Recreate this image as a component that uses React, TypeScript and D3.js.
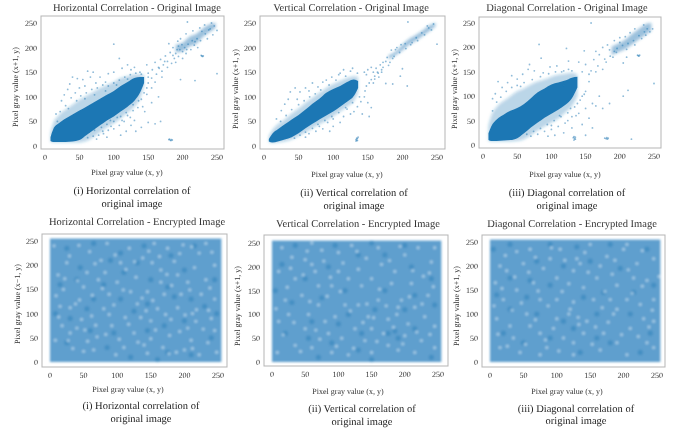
import React from 'react';
import * as d3 from 'd3';

type Pt = [number, number];

const width = 674;
const height = 432;
const blue = '#1f77b4';
const ticks = [0, 50, 100, 150, 200, 250];
const serif = '"Liberation Serif", serif';

// dense part of the original-image clouds, as x / low y / high y
const hCoreX = [8, 12, 20, 30, 40, 50, 60, 70, 80, 90, 100, 110, 120, 130, 138, 144];
const hCoreLow = [10, 8, 8, 8, 9, 12, 22, 32, 42, 52, 60, 70, 80, 92, 108, 128];
const hCoreHigh = [18, 34, 46, 56, 64, 72, 80, 88, 96, 104, 112, 122, 130, 138, 140, 140];
const hHaloLow = [8, 7, 7, 7, 7, 7, 10, 18, 28, 38, 46, 56, 68, 80, 96, 122];
const hHaloHigh = [26, 46, 62, 74, 84, 94, 102, 110, 118, 124, 130, 138, 142, 146, 146, 144];
const hUpperX = [190, 200, 210, 220, 230, 240, 248];
const hUpperLow = [190, 192, 202, 208, 222, 232, 240];
const hUpperHigh = [206, 210, 222, 228, 240, 248, 250];

const vCoreX = [7, 12, 20, 30, 40, 50, 60, 70, 80, 90, 100, 110, 120, 130, 136];
const vCoreLow = [9, 7, 9, 13, 18, 26, 36, 45, 54, 62, 70, 80, 90, 102, 118];
const vCoreHigh = [14, 25, 34, 44, 54, 63, 74, 86, 96, 108, 116, 122, 130, 135, 132];
const vHaloLow = [8, 6, 7, 9, 13, 20, 28, 36, 44, 52, 60, 70, 80, 92, 108];
const vHaloHigh = [20, 32, 44, 54, 66, 76, 88, 98, 108, 118, 126, 132, 138, 142, 140];
const vUpperX = [180, 190, 200, 210, 220, 230, 240, 248];
const vUpperLow = [176, 184, 194, 206, 214, 224, 234, 244];
const vUpperHigh = [184, 192, 206, 218, 226, 236, 246, 250];

const dCoreX = [8, 12, 20, 30, 40, 50, 60, 70, 80, 90, 100, 110, 120, 130, 138];
const dCoreLow = [10, 8, 8, 9, 10, 14, 24, 36, 46, 56, 64, 72, 82, 96, 118];
const dCoreHigh = [24, 38, 52, 62, 70, 76, 84, 96, 108, 116, 124, 128, 132, 138, 140];
const dHaloLow = [8, 7, 7, 7, 7, 8, 12, 20, 30, 38, 46, 54, 66, 80, 100];
const dHaloHigh = [40, 60, 78, 90, 100, 110, 116, 124, 130, 134, 140, 144, 146, 148, 144];
const dUpperX = [188, 198, 208, 218, 228, 238, 246];
const dUpperLow = [184, 190, 196, 206, 216, 226, 234];
const dUpperHigh = [202, 208, 216, 228, 238, 248, 250];

// loose points around the clouds: clear outliers are read off the picture, the rest
// only stand in for the scatter at about the right place
const hLoose: Pt[] = [[182,12],[184,13],[180,13],[183,11],[181,14],[185,12],[228,183],[229,182],[227,184],[230,183],[207,252],[250,147],[197,135],[218,133],[100,207],[62,152],[70,150],[40,140],[47,137],[55,135],[33,115],[24,92],[16,65],[28,104],[36,126],[66,140],[80,140],[92,147],[100,150],[112,158],[120,165],[125,155],[108,178],[88,130],[74,128],[58,122],[50,118],[130,160],[138,150],[150,148],[156,155],[148,165],[160,170],[168,176],[175,183],[165,160],[172,165],[182,190],[178,172],[188,178],[192,196],[186,200],[180,208],[200,178],[205,188],[190,170],[212,196],[222,200],[236,218],[244,226],[215,234],[205,228],[197,218],[193,213],[225,240],[232,246],[150,128],[155,118],[148,105],[140,95],[135,78],[142,80],[128,72],[120,62],[115,50],[130,52],[108,42],[100,35],[92,32],[85,25],[78,22],[118,30],[132,30],[150,48],[160,45],[168,50],[145,70],[155,88],[165,100],[160,130],[170,140],[95,52],[105,58],[70,20],[62,17],[90,18],[75,14],[110,22],[125,42],[140,38],[218,212],[238,236],[246,244],[242,250],[250,235],[18,50],[22,70],[30,82],[38,98],[44,108],[52,102],[60,108],[68,115],[76,118],[84,124],[92,122],[100,128],[108,134],[116,140],[124,145],[132,148],[140,146],[46,92],[34,76],[58,96],[72,104],[88,112],[104,124],[120,136],[64,28],[72,32],[82,38],[90,44],[100,50],[110,60],[118,68],[128,84],[136,92],[144,108],[148,118],[112,52],[124,58],[96,40],[84,30],[196,196],[203,200],[208,207],[214,214],[194,203],[199,206],[226,214],[221,218],[233,228],[228,233],[240,238],[206,196],[217,205],[190,188],[155,138],[162,146],[170,152],[178,160],[184,168],[194,182],[150,140],[166,158],[174,172],[186,184],[200,192]];
const vLoose: Pt[] = [[133,10],[134,12],[135,15],[136,18],[133,13],[135,11],[134,16],[208,252],[250,207],[207,122],[186,126],[176,127],[200,157],[197,142],[155,160],[158,150],[150,155],[148,145],[162,158],[168,165],[172,170],[178,180],[186,178],[165,148],[170,155],[155,135],[160,142],[145,150],[135,148],[125,152],[115,155],[128,158],[108,145],[98,140],[85,130],[70,128],[60,118],[45,118],[38,110],[52,110],[30,85],[25,72],[18,55],[35,95],[48,95],[65,112],[78,120],[90,134],[110,148],[145,100],[140,90],[150,88],[155,78],[135,80],[125,65],[115,60],[110,48],[100,40],[95,30],[85,35],[75,30],[65,25],[60,18],[120,75],[130,70],[142,65],[152,60],[100,55],[92,48],[80,40],[205,198],[212,206],[220,220],[228,230],[238,240],[245,248],[192,200],[184,195],[236,244],[188,182],[196,190],[176,172],[148,122],[158,128],[166,140],[182,170],[24,50],[32,62],[40,74],[50,84],[58,92],[66,100],[74,106],[82,114],[94,124],[104,134],[118,142],[44,16],[52,22],[60,28],[70,36],[78,44],[88,52],[98,60],[108,68],[118,78],[128,88],[138,100],[146,112],[152,128],[160,136],[172,160],[180,164],[170,150],[164,150],[190,196],[198,206],[204,208],[214,210],[222,214],[232,226],[242,236]];
const dLoose: Pt[] = [[133,10],[134,13],[132,15],[135,12],[133,17],[135,16],[180,13],[181,15],[183,14],[178,14],[182,12],[227,183],[228,182],[226,184],[229,184],[217,12],[250,126],[158,250],[82,206],[122,198],[148,193],[118,122],[22,130],[28,118],[36,128],[14,95],[18,105],[42,142],[50,135],[58,145],[66,155],[75,152],[88,148],[98,160],[108,162],[115,150],[125,155],[68,165],[55,120],[85,178],[125,172],[140,170],[150,165],[162,175],[170,185],[180,170],[190,180],[175,200],[165,192],[185,195],[195,190],[205,168],[210,180],[145,150],[155,145],[165,150],[175,155],[155,130],[150,110],[145,100],[160,85],[150,75],[140,65],[130,58],[120,45],[110,38],[100,32],[90,28],[80,22],[70,18],[130,35],[145,42],[155,55],[165,80],[175,75],[170,100],[185,85],[205,100],[212,112],[118,25],[105,20],[95,18],[150,20],[160,35],[200,210],[208,222],[215,230],[222,238],[235,246],[244,232],[248,238],[238,225],[192,214],[200,220],[182,205],[112,60],[128,75],[138,85],[14,70],[20,88],[26,98],[34,110],[42,118],[50,122],[60,128],[72,134],[84,140],[96,146],[106,150],[118,152],[130,152],[64,22],[74,28],[84,34],[94,42],[104,50],[114,58],[124,66],[134,78],[142,92],[148,104],[124,50],[136,60],[100,40],[196,198],[204,204],[212,208],[220,214],[228,224],[236,232],[192,192],[186,182],[178,176],[158,152],[168,162],[210,196],[222,205],[232,218],[240,238]];

// encrypted clouds: the extent is read off the picture. The spots are NOT measured: single
// pixels can't be read there, so they only suggest the speckle and are far fewer than the original's
const fullRange = [0, 255];
const ehLight: Pt[] = [[59,228],[72,170],[38,120],[44,128],[30,112],[105,205],[118,235],[155,245],[165,190],[185,208],[222,225],[190,180],[232,170],[240,90],[212,100],[218,108],[205,70],[178,55],[150,85],[130,120],[92,75],[70,52],[50,22],[34,28],[110,30],[145,18],[168,30],[200,25],[235,40],[18,75],[12,180],[25,205],[88,140],[100,165],[128,175],[145,145],[170,140],[195,140],[225,140],[245,200],[6,240],[85,245],[138,215],[62,95],[80,110],[112,92],[160,110],[190,112],[245,130],[8,45],[20,150],[55,185],[76,210],[95,118],[125,60],[150,48],[180,88],[210,45],[228,68],[248,20],[40,70],[65,25],[98,15],[135,92],[165,165],[205,165],[215,195],[175,235],[198,242],[232,245],[50,155],[15,115],[120,145],[152,205],[82,185],[30,60],[140,35],[188,20],[222,15],[245,65],[13,93],[27,44],[47,88],[56,43],[68,76],[83,57],[103,47],[117,78],[131,41],[157,66],[172,98],[193,63],[217,84],[236,107],[41,168],[63,138],[78,152],[109,149],[137,132],[153,127],[181,158],[208,149],[238,153],[29,219],[43,241],[67,203],[97,221],[113,191],[147,229],[163,218],[193,224],[211,238],[241,227],[9,137],[22,172],[126,207],[174,181],[201,97],[143,106],[88,98],[52,66],[177,17],[212,28]];
const ehDark: Pt[] = [[25,40],[60,65],[85,30],[120,10],[145,65],[175,20],[210,15],[240,50],[30,90],[65,130],[105,130],[145,120],[185,135],[230,115],[15,160],[45,195],[80,160],[110,185],[150,170],[200,190],[245,170],[25,235],[65,245],[105,225],[140,240],[180,220],[215,240],[8,100],[95,60],[170,75],[200,85],[125,105],[55,110],[40,170],[175,155],[130,205],[90,210],[210,130],[248,100],[160,5]];
const evLight: Pt[] = [[60,205],[65,190],[50,215],[20,130],[15,240],[35,175],[90,160],[100,230],[130,195],[160,240],[180,165],[195,130],[190,115],[188,100],[200,225],[228,180],[235,140],[240,210],[205,80],[168,60],[145,95],[110,120],[85,60],[60,30],[35,35],[115,15],[150,20],[190,25],[225,45],[10,85],[25,100],[70,120],[95,95],[125,70],[160,130],[135,160],[75,235],[115,175],[165,205],[210,165],[245,75],[245,30],[8,20],[50,70],[45,140],[80,85],[105,50],[140,45],[175,35],[215,115],[230,95],[70,160],[30,220],[120,245],[150,175],[185,190],[245,240],[10,190],[90,20],[200,55],[55,100],[130,120],[175,90],[215,20],[150,70],[100,190],[60,250],[220,240],[17,57],[33,83],[43,22],[72,48],[97,33],[123,29],[137,83],[158,43],[183,73],[218,63],[238,58],[23,157],[57,127],[83,138],[103,148],[118,107],[143,122],[172,118],[207,137],[226,122],[28,197],[47,183],[78,212],[107,208],[142,218],[177,213],[193,243],[212,192],[237,187],[6,112],[66,67],[153,93],[197,38],[128,232],[88,178],[162,153],[243,158],[53,233]];
const evDark: Pt[] = [[20,60],[55,50],[90,40],[130,25],[175,60],[190,50],[185,65],[215,70],[30,125],[75,135],[115,100],[155,110],[215,140],[15,205],[50,175],[85,200],[130,225],[170,225],[210,200],[240,175],[35,245],[95,245],[150,250],[200,245],[245,120],[5,150],[110,150],[170,150],[135,60],[60,85],[240,10],[150,5],[70,10],[100,80],[200,110]];
const edLight: Pt[] = [[15,200],[25,190],[130,215],[135,205],[125,190],[140,155],[120,110],[118,100],[125,125],[75,60],[190,110],[185,100],[205,130],[225,120],[175,220],[200,235],[60,235],[90,215],[40,150],[65,165],[100,175],[160,175],[190,160],[235,170],[245,215],[10,90],[30,75],[55,100],[95,70],[145,85],[170,60],[210,70],[235,40],[15,30],[45,20],[85,30],[125,40],[165,25],[205,15],[245,85],[75,130],[100,130],[155,130],[230,90],[50,205],[105,235],[150,245],[220,205],[20,130],[35,50],[110,50],[60,75],[140,60],[190,40],[245,130],[165,200],[80,195],[40,230],[8,165],[215,175],[180,130],[245,30],[75,15],[125,15],[205,245],[100,90],[12,58],[26,33],[53,37],[68,88],[83,46],[103,23],[133,78],[153,37],[177,83],[197,57],[222,53],[238,73],[33,108],[47,123],[87,117],[108,147],[132,93],[168,113],[213,143],[243,108],[18,153],[37,177],[58,187],[72,148],[118,163],[147,187],[183,183],[207,192],[228,158],[23,222],[68,218],[112,212],[142,228],[187,212],[228,232],[6,117],[92,238],[172,147],[253,178],[158,73]];
const edDark: Pt[] = [[20,60],[50,40],[90,50],[135,20],[180,40],[225,20],[30,110],[70,100],[110,85],[160,100],[210,100],[240,60],[10,140],[55,135],[90,160],[140,135],[170,145],[245,160],[30,175],[70,210],[110,200],[150,210],[195,195],[30,245],[90,245],[130,240],[180,245],[235,235],[5,235],[215,145],[125,70],[160,50],[60,170]];

const chart = [
  { title: 'Horizontal Correlation - Original Image', titleX: 137, titleY: 11, yLabel: 'Pixel gray value (x+1, y)', ylPos: [18, 87], caption: ['(i) Horizontal correlation of', 'original image'], capX: 132, capY: [194, 207], labelPos: [127, 175], frame: [41, 16, 224, 149], px: [45, 217, 146, 23], data: { x: hCoreX, low: hCoreLow, high: hCoreHigh, haloLow: hHaloLow, haloHigh: hHaloHigh, ux: hUpperX, ul: hUpperLow, uh: hUpperHigh, loose: hLoose } },
  { title: 'Vertical Correlation - Original Image', titleX: 351, titleY: 11, yLabel: 'Pixel gray value (x+1, y)', ylPos: [238, 89], caption: ['(ii) Vertical correlation of', 'original image'], capX: 354, capY: [196, 209], labelPos: [347, 177], frame: [260, 16, 445, 149], px: [264, 437, 146, 23], data: { x: vCoreX, low: vCoreLow, high: vCoreHigh, haloLow: vHaloLow, haloHigh: vHaloHigh, ux: vUpperX, ul: vUpperLow, uh: vUpperHigh, loose: vLoose } },
  { title: 'Diagonal Correlation - Original Image', titleX: 567, titleY: 11, yLabel: 'Pixel gray value (x+1, y)', ylPos: [457, 89], caption: ['(iii) Diagonal correlation of', 'original image'], capX: 567, capY: [196, 209], labelPos: [565, 177], frame: [479, 17, 661, 148], px: [483, 654, 145, 23], data: { x: dCoreX, low: dCoreLow, high: dCoreHigh, haloLow: dHaloLow, haloHigh: dHaloHigh, ux: dUpperX, ul: dUpperLow, uh: dUpperHigh, loose: dLoose } },
  { title: 'Horizontal Correlation - Encrypted Image', titleX: 137, titleY: 225, yLabel: 'Pixel gray value (x\u22121, y)', ylPos: [20, 304], caption: ['(i) Horizontal correlation of', 'original image'], capX: 141, capY: [409, 422], labelPos: [128, 392], frame: [42, 234, 227, 367], px: [50, 218, 362, 241], light: ehLight, dark: ehDark },
  { title: 'Vertical Correlation - Encrypted Image', titleX: 358, titleY: 227, yLabel: 'Pixel gray value (x+1, y)', ylPos: [240, 306], caption: ['(ii) Vertical correlation of', 'original image'], capX: 362, capY: [412, 425], labelPos: [348, 394], frame: [264, 235, 448, 366], px: [272, 438, 362, 243], light: evLight, dark: evDark },
  { title: 'Diagonal Correlation - Encrypted Image', titleX: 572, titleY: 227, yLabel: 'Pixel gray value (x+1, y)', ylPos: [459, 306], caption: ['(iii) Diagonal correlation of', 'original image'], capX: 576, capY: [412, 424], labelPos: [567, 394], frame: [482, 235, 665, 367], px: [490, 657, 362, 242], light: edLight, dark: edDark },
];

function Panel({ p }: { p: any }) {
  const [l, t, r, b] = p.frame;
  const [x0, x1, y0, y1] = p.px;
  const xScale = d3.scaleLinear().domain([0, 250]).range([x0, x1]);
  const yScale = d3.scaleLinear().domain([0, 250]).range([y0, y1]);

  const band = (xs: number[], lo: number[], hi: number[]) =>
    d3.area<number>()
      .x(d => xScale(d))
      .y0((_, i) => yScale(lo[i]))
      .y1((_, i) => yScale(hi[i]))
      .curve(d3.curveMonotoneX)(xs) as string;

  return (
    <g>
      {p.data && (
        <g>
          <g filter="url(#feather)">
            <path d={band(p.data.x, p.data.haloLow, p.data.haloHigh)} fill={blue} opacity={0.3} />
            <path d={band(p.data.ux, p.data.ul, p.data.uh)} fill={blue} opacity={0.45} />
          </g>
          <path d={band(p.data.x, p.data.low, p.data.high)} fill={blue} filter="url(#soft)" />
          <g filter="url(#soft)">
            {p.data.loose.map((d: Pt, i: number) => (
              <circle key={i} cx={xScale(d[0])} cy={yScale(d[1])} r={0.9} fill={blue} opacity={0.5} />
            ))}
          </g>
        </g>
      )}
      {p.light && (
        <g filter="url(#mottle)">
          <rect
            x={xScale(fullRange[0])}
            y={yScale(fullRange[1])}
            width={xScale(fullRange[1]) - xScale(fullRange[0])}
            height={yScale(fullRange[0]) - yScale(fullRange[1])}
            fill="#5f9fce"
          />
          {p.dark.map((d: Pt, i: number) => (
            <circle key={i} cx={xScale(d[0])} cy={yScale(d[1])} r={2.6} fill={blue} opacity={0.4} />
          ))}
          {p.light.map((d: Pt, i: number) => (
            <circle key={i} cx={xScale(d[0])} cy={yScale(d[1])} r={1.7} fill="#d6e8f4" opacity={0.55} />
          ))}
        </g>
      )}
      <rect x={l} y={t} width={r - l} height={b - t} fill="none" stroke="#b5b5b5" strokeWidth={1} />
      <g filter="url(#textSoft)">
        <text x={p.titleX} y={p.titleY} textAnchor="middle" fontSize={10.5} fill="#333">{p.title}</text>
        {ticks.map(d => (
          <text key={'x' + d} x={xScale(d)} y={b + 11} textAnchor="middle" fontSize={8} fill="#333">{d}</text>
        ))}
        {ticks.map(d => (
          <text key={'y' + d} x={l - 4} y={yScale(d) + 3} textAnchor="end" fontSize={8} fill="#333">{d}</text>
        ))}
        <text x={p.labelPos[0]} y={p.labelPos[1]} textAnchor="middle" fontSize={8} fill="#333">Pixel gray value (x, y)</text>
        <text transform={`translate(${p.ylPos[0]},${p.ylPos[1]}) rotate(-90)`} textAnchor="middle" fontSize={8} fill="#333">{p.yLabel}</text>
        <text x={p.capX} y={p.capY[0]} textAnchor="middle" fontSize={10.5} fill="#222">{p.caption[0]}</text>
        <text x={p.capX} y={p.capY[1]} textAnchor="middle" fontSize={10.5} fill="#222">{p.caption[1]}</text>
      </g>
    </g>
  );
}

export default function App() {
  return (
    <svg width={width} height={height} fontFamily={serif} textRendering="geometricPrecision" style={{ position: 'absolute', left: 0, top: 0, background: '#fff' }}>
      <defs>
        <filter id="soft" x="-5%" y="-5%" width="110%" height="110%">
          <feGaussianBlur stdDeviation={0.5} />
        </filter>
        <filter id="feather" x="-10%" y="-10%" width="120%" height="120%">
          <feGaussianBlur stdDeviation={1.8} />
        </filter>
        <filter id="mottle" x="-2%" y="-2%" width="104%" height="104%">
          <feGaussianBlur stdDeviation={0.8} />
        </filter>
        <filter id="textSoft" x="-5%" y="-5%" width="110%" height="110%">
          <feGaussianBlur stdDeviation={0.2} />
        </filter>
      </defs>
      {chart.map(p => <Panel key={p.title} p={p} />)}
    </svg>
  );
}
